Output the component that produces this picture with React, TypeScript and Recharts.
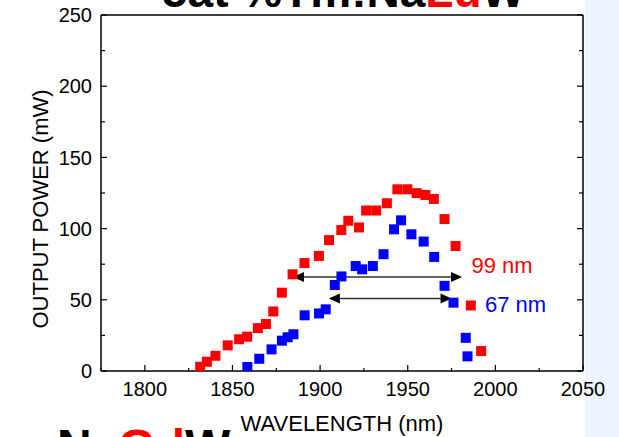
import React from 'react';
import {
  ScatterChart,
  Scatter,
  XAxis,
  YAxis,
  ReferenceLine,
  ReferenceDot,
  Label
} from 'recharts';

// Tm:NaLuW (red) and Tm:NaGdW (blue) tuning curves
const redWavelength = [1831.6, 1835.4, 1840.3, 1847.3, 1853.8, 1858.4, 1864.5, 1869.1, 1873.3, 1878.2, 1884.3, 1891.1, 1899.3, 1905.1, 1912.1, 1916.1, 1922.2, 1926.3, 1932.0, 1938.1, 1944.1, 1949.8, 1955.1, 1960.1, 1964.9, 1971.0, 1977.3, 1986.0, 1991.9];
const redPower = [3.0, 6.5, 10.7, 18.0, 22.3, 24.1, 30.1, 33.0, 41.8, 55.0, 67.9, 75.8, 80.8, 91.9, 99.0, 105.5, 100.8, 112.7, 112.7, 117.8, 127.6, 127.6, 124.9, 123.6, 120.8, 106.7, 87.8, 46.0, 14.0];

const blueWavelength = [1858.5, 1865.3, 1872.3, 1878.2, 1881.5, 1884.8, 1891.2, 1899.4, 1903.2, 1908.4, 1912.2, 1920.3, 1924.0, 1930.1, 1936.2, 1942.2, 1946.2, 1952.1, 1959.1, 1965.1, 1971.0, 1976.1, 1983.1, 1984.1];
const bluePower = [2.8, 8.6, 15.2, 21.3, 23.7, 25.8, 39.1, 40.4, 43.3, 60.4, 66.4, 73.7, 71.4, 73.7, 82.0, 99.5, 105.8, 96.0, 90.9, 80.1, 59.8, 48.0, 23.3, 10.3];

const xTicks = [1775, 1800, 1825, 1850, 1875, 1900, 1925, 1950, 1975, 2000, 2025, 2050];
const yTicks = [0, 25, 50, 75, 100, 125, 150, 175, 200, 225, 250];

// bandwidth arrows: [start, end, power]
const redWidth = [1884.5, 1981, 66];
const blueWidth = [1905, 1975, 51];
const redWidthLabel = { w: 1986.4, p: 74.1, text: '99 nm' };
const blueWidthLabel = { w: 1994.1, p: 46.9, text: '67 nm' };

const redData = redWavelength.map((w, i) => ({ w, p: redPower[i] }));
const blueData = blueWavelength.map((w, i) => ({ w, p: bluePower[i] }));

const FONT = '"Liberation Sans", Arial, Helvetica, sans-serif';
const RED = '#ff0000';
const BLUE = '#0000ff';
const X_GAP = 11;
const Y_GAP = 9;

const isMajor = (v: number) => v % 50 === 0;

const BottomTick = (props: any) => {
  const { x, y, payload } = props;
  const base = y - X_GAP;
  const major = isMajor(payload.value);
  return (
    <g>
      <line x1={x} y1={base} x2={x} y2={base - (major ? 6 : 3)} stroke="#000" strokeWidth={1.2} />
      {major && (
        <text x={x} y={y} dy="0.71em" textAnchor="middle" fontSize={20} fontFamily={FONT} fill="#000">
          {payload.value}
        </text>
      )}
    </g>
  );
};

const TopTick = (props: any) => {
  const { x, y, payload } = props;
  const major = isMajor(payload.value);
  return <line x1={x} y1={y} x2={x} y2={y + (major ? 6 : 3)} stroke="#000" strokeWidth={1.2} />;
};

const LeftTick = (props: any) => {
  const { x, y, payload } = props;
  const base = x + Y_GAP;
  const major = isMajor(payload.value);
  return (
    <g>
      <line x1={base} y1={y} x2={base + (major ? 6 : 4)} y2={y} stroke="#000" strokeWidth={1.2} />
      {major && (
        <text x={x} y={y} dy="0.355em" textAnchor="end" fontSize={20} fontFamily={FONT} fill="#000">
          {payload.value}
        </text>
      )}
    </g>
  );
};

const RightTick = (props: any) => {
  const { x, y, payload } = props;
  const major = isMajor(payload.value);
  return <line x1={x} y1={y} x2={x - (major ? 6 : 4)} y2={y} stroke="#000" strokeWidth={1.2} />;
};

const Square = (color: string) => (props: any) => (
  <rect x={props.cx - 5} y={props.cy - 5} width={10} height={10} fill={color} />
);

const DoubleArrow = (props: any) => {
  const { x1, y1, x2 } = props;
  const l = Math.min(x1, x2);
  const r = Math.max(x1, x2);
  const y = y1;
  return (
    <g>
      <line x1={l + 6} y1={y} x2={r - 6} y2={y} stroke="#333" strokeWidth={1.5} />
      <polygon points={`${l},${y} ${l + 11},${y - 5} ${l + 11},${y + 5}`} fill="#000" />
      <polygon points={`${r},${y} ${r - 11},${y - 5} ${r - 11},${y + 5}`} fill="#000" />
    </g>
  );
};

const widthText = (text: string, color: string) => (props: any) => (
  <text x={props.cx} y={props.cy} dy="0.355em" textAnchor="start" fontSize={22} fontFamily={FONT} fill={color}>
    {text}
  </text>
);

const YTitle = (props: any) => {
  const { x, y, height } = props.viewBox;
  const tx = x + 7;
  const ty = y + height / 2 + 16;
  return (
    <text x={tx} y={ty} transform={`rotate(-90, ${tx}, ${ty})`} textAnchor="middle" fontSize={22} fontFamily={FONT} fill="#000">
      OUTPUT POWER (mW)
    </text>
  );
};

export default function App() {
  return (
    <div style={{ position: 'absolute', left: 0, top: 0, width: 619, height: 437, overflow: 'hidden', background: '#fff' }}>
      <div style={{ position: 'absolute', left: 585, top: 0, width: 34, height: 437, background: '#edf4fd' }} />
      <div style={{ position: 'absolute', left: 0, top: 0 }}>
        <ScatterChart width={619} height={437} margin={{ top: 14, right: 35, bottom: 36, left: 41 }}>
          <XAxis
            xAxisId="b"
            type="number"
            dataKey="w"
            domain={[1775, 2050]}
            ticks={xTicks}
            interval={0}
            allowDataOverflow
            height={30}
            tickSize={0}
            tickMargin={X_GAP}
            tickLine={false}
            tick={BottomTick}
            axisLine={{ stroke: '#000', strokeWidth: 1.5 }}
          >
            <Label value="WAVELENGTH (nm)" position="bottom" offset={14} fontSize={22} fontFamily={FONT} fill="#000" />
          </XAxis>
          <XAxis
            xAxisId="t"
            orientation="top"
            type="number"
            domain={[1775, 2050]}
            ticks={xTicks}
            interval={0}
            allowDataOverflow
            height={1}
            tickSize={0}
            tickMargin={0}
            tickLine={false}
            tick={TopTick}
            axisLine={{ stroke: '#000', strokeWidth: 1.5 }}
          />
          <YAxis
            yAxisId="l"
            type="number"
            dataKey="p"
            domain={[0, 250]}
            ticks={yTicks}
            interval={0}
            allowDataOverflow
            width={60}
            tickSize={0}
            tickMargin={Y_GAP}
            tickLine={false}
            tick={LeftTick}
            axisLine={{ stroke: '#000', strokeWidth: 1.5 }}
          >
            <Label content={YTitle} />
          </YAxis>
          <YAxis
            yAxisId="r"
            orientation="right"
            type="number"
            domain={[0, 250]}
            ticks={yTicks}
            interval={0}
            allowDataOverflow
            width={1}
            tickSize={0}
            tickMargin={0}
            tickLine={false}
            tick={RightTick}
            axisLine={{ stroke: '#000', strokeWidth: 1.5 }}
          />
          <Scatter xAxisId="b" yAxisId="l" data={redData} shape={Square(RED)} isAnimationActive={false} />
          <Scatter xAxisId="b" yAxisId="l" data={blueData} shape={Square(BLUE)} isAnimationActive={false} />
          <ReferenceLine
            xAxisId="b"
            yAxisId="l"
            segment={[{ x: redWidth[0], y: redWidth[2] }, { x: redWidth[1], y: redWidth[2] }]}
            shape={DoubleArrow}
          />
          <ReferenceLine
            xAxisId="b"
            yAxisId="l"
            segment={[{ x: blueWidth[0], y: blueWidth[2] }, { x: blueWidth[1], y: blueWidth[2] }]}
            shape={DoubleArrow}
          />
          <ReferenceDot xAxisId="b" yAxisId="l" x={redWidthLabel.w} y={redWidthLabel.p} r={0} shape={widthText(redWidthLabel.text, RED)} />
          <ReferenceDot xAxisId="b" yAxisId="l" x={blueWidthLabel.w} y={blueWidthLabel.p} r={0} shape={widthText(blueWidthLabel.text, BLUE)} />
        </ScatterChart>
      </div>
      <svg width={619} height={437} style={{ position: 'absolute', left: 0, top: 0, pointerEvents: 'none' }}>
        <text x={162} y={7} fontSize={46} fontWeight="bold" fontFamily={FONT} fill="#000">
          5at %Tm:Na<tspan fill={RED}>Lu</tspan>W
        </text>
        <text x={57} y={463} fontSize={48} fontWeight="bold" fontFamily={FONT} fill="#000">
          Na<tspan fill={RED}>Gd</tspan>W
        </text>
      </svg>
    </div>
  );
}
